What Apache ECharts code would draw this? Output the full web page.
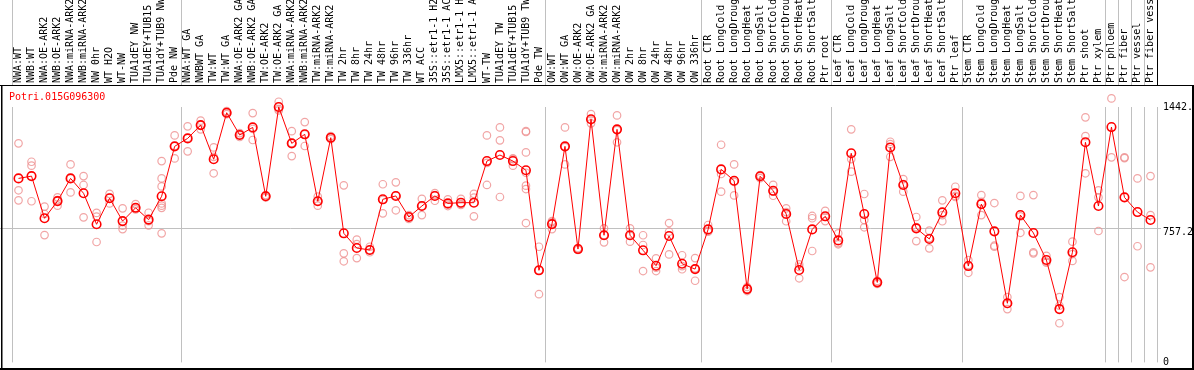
<!DOCTYPE html>
<html><head><meta charset="utf-8">
<style>html,body{margin:0;padding:0;background:#fff}#c{width:1194px;height:370px}</style>
<script src="https://cdn.jsdelivr.net/npm/echarts/dist/echarts.min.js"></script>
</head><body><div id="c"></div>
<script>
const geneId = 'Potri.015G096300';

const categories = [
  'NWA:WT','NWB:WT','NWA:OE-ARK2','NWB:OE-ARK2','NWA:miRNA-ARK2','NWB:miRNA-ARK2','NW 0hr','WT H2O','WT-NW','TUA1dEY NW','TUA1dEY+TUB15 NW','TUA1dY+TUB9 NW','Pde NW',
  'NWA:WT GA','NWBWT GA','TW:WT','TW:WT GA','NWA:OE-ARK2 GA','NWB:OE-ARK2 GA','TW:OE-ARK2','TW:OE-ARK2 GA','NWA:miRNA-ARK2 GA','NWB:miRNA-ARK2 GA','TW:miRNA-ARK2','TW:miRNA-ARK2 GA','TW 2hr','TW 8hr','TW 24hr','TW 48hr','TW 96hr','TW 336hr','WT ACC','35S::etr1-1 H2O','35S::etr1-1 ACC','LMX5::etr1-1 H2O','LMX5::etr1-1 ACC','WT-TW','TUA1dEY TW','TUA1dEY+TUB15 TW','TUA1dY+TUB9 TW','Pde TW',
  'OW:WT','OW:WT GA','OW:OE-ARK2','OW:OE-ARK2 GA','OW:miRNA-ARK2','OW:miRNA-ARK2 GA','OW 2hr','OW 8hr','OW 24hr','OW 48hr','OW 96hr','OW 336hr',
  'Root CTR','Root LongCold','Root LongDrought','Root LongHeat','Root LongSalt','Root ShortCold','Root ShortDrought','Root ShortHeat','Root ShortSalt','Ptr root',
  'Leaf CTR','Leaf LongCold','Leaf LongDrought','Leaf LongHeat','Leaf LongSalt','Leaf ShortCold','Leaf ShortDrought','Leaf ShortHeat','Leaf ShortSalt','Ptr leaf',
  'Stem CTR','Stem LongCold','Stem LongDrought','Stem LongHeat','Stem LongSalt','Stem ShortCold','Stem ShortDrought','Stem ShortHeat','Stem ShortSalt','Ptr shoot','Ptr xylem',
  'Ptr phloem','Ptr fiber','Ptr vessel','Ptr fiber vessel'
];

// first category of each separated block
const groupStarts = [0, 13, 41, 53, 63, 73, 84, 85, 86, 87];

const means = [
  1039,1052,814,911,1039,955,780,927,798,873,806,938,1220,
  1265,1340,1147,1410,1284,1327,938,1442.3,1237,1288,910,1269,729,646,635,921,940,821,883,940,898,902,902,1137,1171,1137,1085,520,
  781,1220,640,1373,718,1316,718,633,546,714,557,527,
  751,1090,1026,414,1051,969,838,522,751,825,
  689,1181,838,452,1214,1002,757,697,847,955,
  544,894,740,334,832,731,578,301,622,1243,883,
  1329,932,849,804
];

const replicates = [
  [1237,972,915],[1133,1111,910],[880,838,719],[932,885,917],[1118,960,1039],[1052,1002,819],[844,823,680],[952,930,898],[870,772,753],[894,873,864],[845,798,774],[1137,1039,994,898,885,873,729],[1282,1222,1152],
  [1333,1267,1192],[1365,1340,1316],[1214,1161,1068],[1419,1410,1402],[1295,1284,1273],[1408,1318,1256],[945,938,931],[1472,1431,1423],[1306,1239,1165],[1357,1287,1222],[936,911,885],[1278,1269,1261],[1000,616,571],[693,668,589],[653,635,622],[1006,917,842],[1017,942,859],[832,821,810],[924,883,832],[956,945,913],[921,891,883],[924,894,889],[952,930,825],[1282,1127,1002],[1327,1254,934],[1152,1148,1111],[1306,1301,1186,1071,998,979,787],[653,520,385],
  [798,791,753],[1327,1216,1118],[646,640,635],[1402,1369,1350],[757,719,678],[1395,1312,1243],[757,714,682],[718,663,516],[588,535,516],[787,738,610],[605,544,526],[589,531,461],
  [776,742,738],[1229,1064,964],[1118,1019,943],[426,414,403],[1058,1051,1041],[1003,964,941],[870,849,797],[554,539,475],[827,814,629],[856,821,798],
  [729,674,667],[1316,1148,1077],[951,804,763],[460,452,443],[1246,1233,1161],[1035,1007,964],[821,764,685],[744,702,644],[915,832,797],[992,940,934],
  [578,550,506],[945,906,832],[900,659,653],[369,330,301],[940,825,732],[945,622,616],[602,569,563],[369,320,221],[682,612,573],[1384,1278,1068],[972,932,742],
  [1491,1158],[1158,1154,482],[1039,656],[1052,832,537]
];

const yTop = 1442.3;   // highest mean, top tick
const yRef = 757.2;    // reference level with gridline

const FONT = 'DejaVu Sans Mono';
const GRAY = '#c0c0c0';

const repData = [];
replicates.forEach((arr, i) => arr.forEach(v => repData.push([i, v])));
const sepFn = (idx) => groupStarts.indexOf(idx) >= 0;
const labelSepColors = groupStarts.map(() => GRAY).concat(['#000']);

const chart = echarts.init(document.getElementById('c'), null, {renderer: 'canvas'});
chart.setOption({
  animation: false,
  backgroundColor: '#fff',
  title: {
    text: geneId, left: 9, top: 92, padding: 0,
    textStyle: {color: '#ff0000', fontFamily: FONT, fontSize: 10, fontWeight: 'normal'}
  },
  grid: [
    {left: 12, right: 37, top: 0, bottom: 285, outerBoundsMode: 'none'},
    {left: 12, right: 37, top: 107, bottom: 7.6, outerBoundsMode: 'none'},
    {left: 0, right: 33, top: 107, bottom: 7.6, outerBoundsMode: 'none'}
  ],
  xAxis: [
    {gridIndex: 0, type: 'category', data: categories, position: 'bottom',
     axisLine: {show: false}, axisTick: {show: false},
     axisLabel: {interval: 0, rotate: 90, inside: true, margin: 2, fontFamily: FONT, fontSize: 10, color: '#000'},
     splitLine: {show: true, interval: sepFn, lineStyle: {color: labelSepColors, width: 1}}},
    {gridIndex: 1, type: 'category', data: categories,
     axisLine: {show: false}, axisTick: {show: false}, axisLabel: {show: false},
     splitLine: {show: true, interval: sepFn, lineStyle: {color: GRAY, width: 1}}},
    {gridIndex: 2, type: 'value', show: false}
  ],
  yAxis: [
    {gridIndex: 0, type: 'value', show: false},
    {gridIndex: 1, type: 'value', position: 'right', min: 0, max: yTop, interval: yRef,
     axisLine: {show: false}, axisTick: {show: false}, splitLine: {show: false},
     axisLabel: {margin: 6, fontFamily: FONT, fontSize: 10, color: '#000', showMinLabel: true, showMaxLabel: true,
       formatter: v => {
         const s = String(+(+v).toFixed(4)).slice(0, 5);
         return Math.abs(v - yRef) < 1e-6 ? '{d|' + s + '}' : s;
       },
       rich: {d: {fontFamily: FONT, fontSize: 10, color: '#000', padding: [9, 0, 0, 0]}}}},
    {gridIndex: 2, type: 'value', min: 0, max: yTop, interval: yRef,
     axisLine: {show: false}, axisTick: {show: false}, axisLabel: {show: false},
     splitLine: {show: true, lineStyle: {color: ['rgba(0,0,0,0)', GRAY, 'rgba(0,0,0,0)'], width: 1}}}
  ],
  graphic: [
    {type: 'line', shape: {x1: 0, y1: 85.5, x2: 1194, y2: 85.5}, style: {stroke: '#000', lineWidth: 1}, z: 10},
    {type: 'line', shape: {x1: 1.75, y1: 85, x2: 1.75, y2: 370}, style: {stroke: '#000', lineWidth: 1.5}, z: 10},
    {type: 'line', shape: {x1: 1193, y1: 85, x2: 1193, y2: 370}, style: {stroke: '#000', lineWidth: 2}, z: 10},
    {type: 'line', shape: {x1: 0, y1: 369, x2: 1194, y2: 369}, style: {stroke: '#000', lineWidth: 2}, z: 10}
  ],
  series: [
    {type: 'scatter', xAxisIndex: 1, yAxisIndex: 1, data: repData, symbol: 'circle', symbolSize: 7.5,
     clip: false, silent: true, z: 2,
     itemStyle: {color: 'rgba(0,0,0,0)', borderColor: '#ee8e8e', borderWidth: 1.2}},
    {type: 'line', xAxisIndex: 1, yAxisIndex: 1, data: means, symbol: 'circle', symbolSize: 8.5,
     showAllSymbol: true, clip: false, silent: true, z: 3,
     lineStyle: {color: '#ff0000', width: 1},
     itemStyle: {color: 'rgba(0,0,0,0)', borderColor: '#ff0000', borderWidth: 1.6}}
  ]
});
</script></body></html>
